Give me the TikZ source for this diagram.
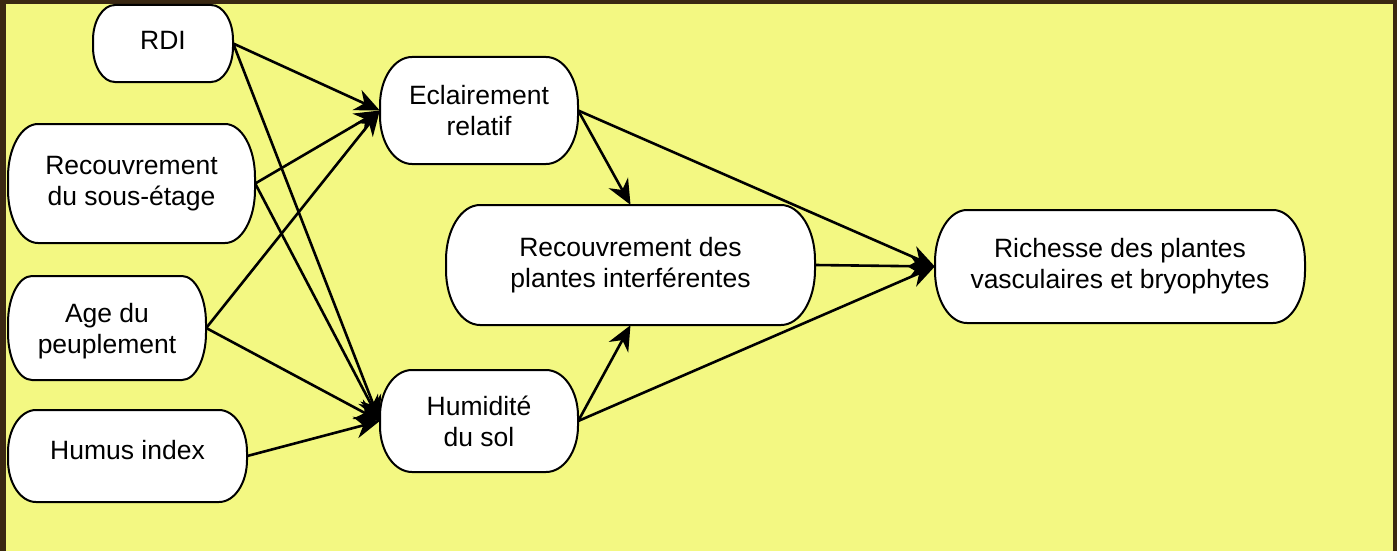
\documentclass[tikz,border=0pt]{standalone}
\usepackage{fontspec}
\setmainfont{Liberation Sans}
\usetikzlibrary{arrows.meta}
\definecolor{bgyellow}{HTML}{F3F882}
\definecolor{frame}{HTML}{3A2812}
\tikzset{
  boxline/.style={draw=black, line width=2pt, fill=white},
  boxtext/.style={shape=rectangle, inner sep=0pt, align=center, text=black,
    font=\fontsize{26.5}{31}\selectfont},
  arr/.style={line width=2.6pt, -{Stealth[length=25pt,width=22pt,inset=8pt]}}
}
% name, cx, cy, w, h, rx, ry, text
\newcommand\ovbox[8]{%
  \filldraw[boxline] ({#2-#4/2+#6},{#3+#5/2}) -- ({#2+#4/2-#6},{#3+#5/2})
    arc[start angle=90,end angle=0,x radius=#6pt,y radius=#7pt]
    -- ({#2+#4/2},{#3-#5/2+#7})
    arc[start angle=0,end angle=-90,x radius=#6pt,y radius=#7pt]
    -- ({#2-#4/2+#6},{#3-#5/2})
    arc[start angle=270,end angle=180,x radius=#6pt,y radius=#7pt]
    -- ({#2-#4/2},{#3+#5/2-#7})
    arc[start angle=180,end angle=90,x radius=#6pt,y radius=#7pt] -- cycle;
  \node[boxtext, minimum width=#4pt, minimum height=#5pt] (#1) at (#2,#3) {#8};
}
\newcommand\lift[2]{\raisebox{#1}[\height][\depth]{#2}}
\begin{document}
\begin{tikzpicture}[x=1pt,y=1pt]
\useasboundingbox (0,0) rectangle (1397,-551);
\fill[frame] (0,0) rectangle (1397,-551);
\fill[bgyellow] (6,-4) rectangle (1393,-551);

\ovbox{rdi}{163}{-43.5}{140}{77}{22}{35}{\lift{3pt}{RDI}}
\ovbox{sous}{131.5}{-183.5}{247}{119}{30}{53}{Recouvrement\\du sous-étage}
\ovbox{age}{107}{-328}{198}{104}{24}{47}{\lift{-4pt}{\begin{tabular}{@{}c@{}}Age du\\peuplement\end{tabular}}}
\ovbox{humus}{127.5}{-456}{239}{92}{28}{42}{\lift{6pt}{Humus index}}
\ovbox{ecl}{479}{-110.5}{198}{107}{32}{48}{Eclairement\\relatif}
\ovbox{hum}{479}{-421}{198}{102}{32}{46}{Humidité\\du sol}
\ovbox{pla}{630.5}{-265}{369}{120}{34}{55}{Recouvrement des\\plantes interférentes}
\ovbox{ric}{1120}{-266.5}{370}{113}{32}{52}{Richesse des plantes\\vasculaires et bryophytes}

\draw[arr] (rdi.east) -- (ecl.west);
\draw[arr] (rdi.east) -- (hum.west);
\draw[arr] (sous.east) -- (ecl.west);
\draw[arr] (sous.east) -- (hum.west);
\draw[arr] (age.east) -- (ecl.west);
\draw[arr] (age.east) -- (hum.west);
\draw[arr] (humus.east) -- (hum.west);
\draw[arr] (ecl.east) -- (pla.north);
\draw[arr] (ecl.east) -- (ric.west);
\draw[arr] (hum.east) -- (pla.south);
\draw[arr] (hum.east) -- (ric.west);
\draw[arr] (pla.east) -- (ric.west);
\end{tikzpicture}
\end{document}
